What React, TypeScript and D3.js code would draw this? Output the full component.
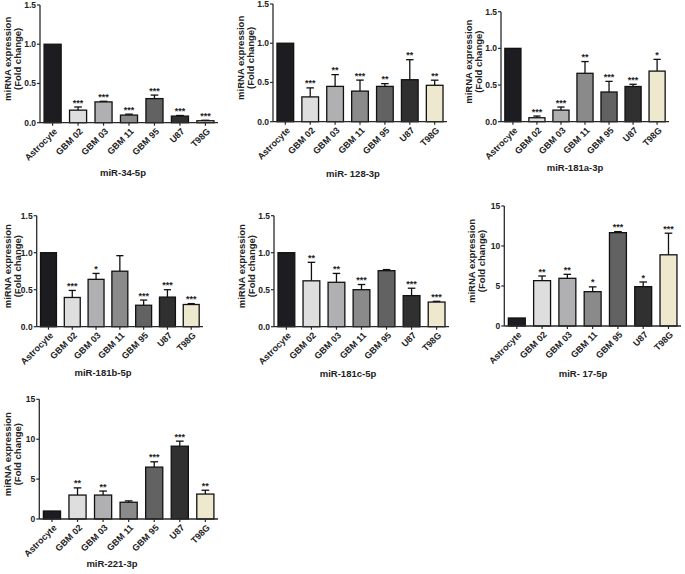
import React from "react";
import * as d3 from "d3";

const categories = ["Astrocyte", "GBM 02", "GBM 03", "GBM 11", "GBM 95", "U87", "T98G"];
const barColors = ["#1d1d21", "#dedede", "#b0b0b3", "#8a8a8a", "#626262", "#303030", "#eee8cf"];

const titles = ["miR-34-5p", "miR- 128-3p", "miR-181a-3p", "miR-181b-5p", "miR-181c-5p", "miR- 17-5p", "miR-221-3p"];
const yMaxes = [1.5, 1.5, 1.5, 1.5, 1.5, 15, 15];
const yTickValues = [
  [0, 0.5, 1.0, 1.5],
  [0, 0.5, 1.0, 1.5],
  [0, 0.5, 1.0, 1.5],
  [0, 0.5, 1.0, 1.5],
  [0, 0.5, 1.0, 1.5],
  [0, 5, 10, 15],
  [0, 5, 10, 15],
];
const yTickFormats = [".1f", ".1f", ".1f", ".1f", ".1f", "d", "d"];

const mir34Means = [1.0, 0.16, 0.265, 0.097, 0.307, 0.084, 0.025];
const mir34Errors = [0, 0.04, 0.008, 0.012, 0.045, 0.008, 0.006];
const mir34Stars = ["", "***", "***", "***", "***", "***", "***"];

const mir128Means = [1.0, 0.316, 0.45, 0.39, 0.45, 0.535, 0.464];
const mir128Errors = [0, 0.115, 0.15, 0.14, 0.035, 0.255, 0.065];
const mir128Stars = ["", "***", "**", "***", "**", "**", "**"];

const mir181aMeans = [1.0, 0.054, 0.158, 0.66, 0.405, 0.48, 0.69];
const mir181aErrors = [0, 0.023, 0.042, 0.16, 0.145, 0.03, 0.16];
const mir181aStars = ["", "***", "***", "**", "***", "***", "*"];

const mir181bMeans = [1.0, 0.395, 0.64, 0.75, 0.29, 0.4, 0.3];
const mir181bErrors = [0, 0.095, 0.08, 0.21, 0.07, 0.1, 0.012];
const mir181bStars = ["", "***", "*", "", "***", "***", "***"];

const mir181cMeans = [1.0, 0.62, 0.6, 0.5, 0.757, 0.42, 0.333];
const mir181cErrors = [0, 0.25, 0.12, 0.07, 0.015, 0.1, 0.01];
const mir181cStars = ["", "**", "**", "***", "", "***", "***"];

const mir17Means = [1.0, 5.67, 5.96, 4.29, 11.67, 4.92, 8.9];
const mir17Errors = [0, 0.58, 0.5, 0.6, 0.13, 0.58, 2.7];
const mir17Stars = ["", "**", "**", "*", "***", "*", "***"];

const mir221Means = [1.0, 3.0, 3.0, 2.1, 6.5, 9.125, 3.125];
const mir221Errors = [0, 0.9, 0.5, 0.17, 0.67, 0.63, 0.48];
const mir221Stars = ["", "**", "**", "", "***", "***", "**"];

const allMeans = [mir34Means, mir128Means, mir181aMeans, mir181bMeans, mir181cMeans, mir17Means, mir221Means];
const allErrors = [mir34Errors, mir128Errors, mir181aErrors, mir181bErrors, mir181cErrors, mir17Errors, mir221Errors];
const allStars = [mir34Stars, mir128Stars, mir181aStars, mir181bStars, mir181cStars, mir17Stars, mir221Stars];

// layout: axis left x, axis right x, zero y, top y, title center x, title baseline y
const layouts = [
  { x0: 40, x1: 218, y0: 122.7, yTop: 5, tx: 123, ty: 176 },
  { x0: 273, x1: 447, y0: 121.7, yTop: 4, tx: 353, ty: 177 },
  { x0: 501, x1: 669, y0: 121.7, yTop: 11.7, tx: 575, ty: 171 },
  { x0: 36.7, x1: 203, y0: 326.7, yTop: 215.7, tx: 103, ty: 376 },
  { x0: 274, x1: 449, y0: 326.7, yTop: 215.7, tx: 348, ty: 377 },
  { x0: 504.3, x1: 681, y0: 326, yTop: 206, tx: 583, ty: 377 },
  { x0: 39.3, x1: 218, y0: 519, yTop: 399.3, tx: 112, ty: 567 },
];

const FONT = "'Liberation Sans', Arial, sans-serif";
const AXIS = "#2a2a2a";

function Panel({ i }: { i: number }) {
  const L = layouts[i];
  const means = allMeans[i];
  const errs = allErrors[i];
  const stars = allStars[i];
  const x = d3.scaleBand<string>().domain(categories).range([L.x0, L.x1]).paddingInner(0.33).paddingOuter(0.16);
  const y = d3.scaleLinear().domain([0, yMaxes[i]]).range([L.y0, L.yTop]);
  const fmt = d3.format(yTickFormats[i]);
  const bw = x.bandwidth();
  const cap = bw * 0.45;
  const yc = (L.y0 + L.yTop) / 2 - 5;
  const lab1 = Math.max(L.x0 - 29, 10.5);
  const lab2 = lab1 + 10;
  return (
    <g>
      {categories.map((c, k) => {
        const cx = (x(c) as number) + bw / 2;
        const top = y(means[k]);
        const et = y(means[k] + errs[k]);
        return (
          <g key={c}>
            {errs[k] > 0 && (
              <g stroke="#111" strokeWidth={1.3}>
                <line x1={cx} x2={cx} y1={top} y2={et} />
                <line x1={cx - cap / 2} x2={cx + cap / 2} y1={et} y2={et} />
              </g>
            )}
            <rect
              x={x(c)}
              y={top}
              width={bw}
              height={L.y0 - top}
              fill={barColors[k]}
              stroke="#111"
              strokeWidth={1.3}
            />
            {stars[k] && (
              <text x={cx} y={et - 1.5} textAnchor="middle" fontSize={9} fontWeight="bold" fontFamily={FONT} fill="#222">
                {stars[k]}
              </text>
            )}
            <line x1={cx} x2={cx} y1={L.y0} y2={L.y0 + 3} stroke={AXIS} strokeWidth={1.2} />
            <text
              transform={`translate(${cx + 3},${L.y0 + 7}) rotate(-45)`}
              textAnchor="end"
              dy="0.35em"
              fontSize={9}
              fontWeight="bold"
              fontFamily={FONT}
              fill="#222"
            >
              {c}
            </text>
          </g>
        );
      })}
      <line x1={L.x0} x2={L.x1} y1={L.y0} y2={L.y0} stroke={AXIS} strokeWidth={1.3} />
      <line x1={L.x0} x2={L.x0} y1={L.y0} y2={L.yTop} stroke={AXIS} strokeWidth={1.3} />
      {yTickValues[i].map((v) => (
        <g key={v}>
          <line x1={L.x0 - 3} x2={L.x0} y1={y(v)} y2={y(v)} stroke={AXIS} strokeWidth={1.2} />
          <text x={L.x0 - 4} y={y(v)} dy="0.35em" textAnchor="end" fontSize={8.5} fontWeight="bold" fontFamily={FONT} fill="#222">
            {fmt(v)}
          </text>
        </g>
      ))}
      <text
        transform={`translate(${lab1},${yc}) rotate(-90)`}
        textAnchor="middle"
        fontSize={9.5}
        fontWeight="bold"
        fontFamily={FONT}
        fill="#222"
      >
        miRNA expression
      </text>
      <text
        transform={`translate(${lab2},${yc}) rotate(-90)`}
        textAnchor="middle"
        fontSize={9.5}
        fontWeight="bold"
        fontFamily={FONT}
        fill="#222"
      >
        (Fold change)
      </text>
      <text x={L.tx} y={L.ty} textAnchor="middle" fontSize={9.5} fontWeight="bold" fontFamily={FONT} fill="#222">
        {titles[i]}
      </text>
    </g>
  );
}

export default function App() {
  return (
    <svg
      width={685}
      height={574}
      style={{ position: "absolute", left: 0, top: 0, background: "#fff" }}
    >
      <rect width={685} height={574} fill="#fff" />
      {layouts.map((_, i) => (
        <Panel key={i} i={i} />
      ))}
    </svg>
  );
}
